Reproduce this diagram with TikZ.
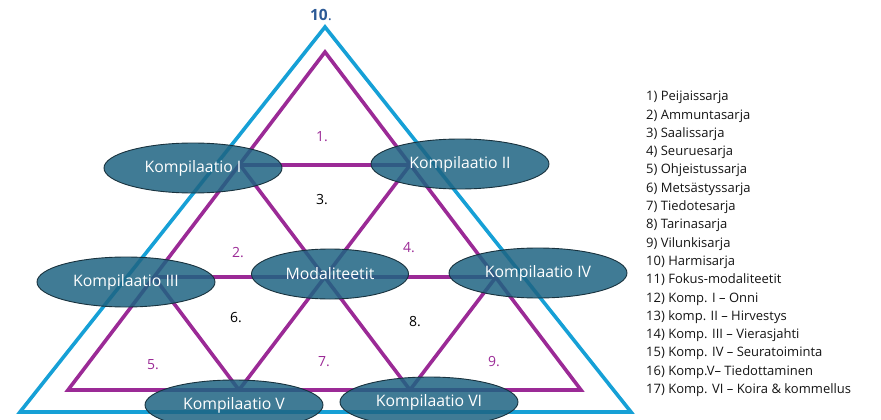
\documentclass[tikz,border=0pt]{standalone}
\usepackage{fontspec}
\setmainfont{Open Sans}
\usetikzlibrary{shapes.geometric}
\definecolor{purp}{RGB}{155,42,150}
\definecolor{skyb}{RGB}{22,160,214}
\definecolor{ellfill}{RGB}{30,100,130}
\definecolor{ellline}{RGB}{25,50,62}
\definecolor{tenblue}{RGB}{44,90,150}
\definecolor{listtext}{RGB}{20,20,20}
\tikzset{
  purpline/.style={draw=purp,line width=3.6pt},
  blueline/.style={draw=skyb,line width=3.6pt},
  komp/.style={ellipse,draw=ellline,line width=0.9pt,fill=ellfill,fill opacity=0.85,draw opacity=1,text opacity=1,
     text=white,minimum width=178pt,minimum height=50pt,inner sep=0pt,font=\fontsize{15.8}{18}\selectfont},
  pnum/.style={text=purp,font=\fontsize{14}{16}\selectfont},
  bnum/.style={text=black,font=\fontsize{14}{16}\selectfont}
}
\begin{document}
\begin{tikzpicture}[x=1pt,y=-1pt]
\useasboundingbox (0,0) rectangle (881,420);
\clip (0,0) rectangle (881,420);
% blue triangle
\coordinate (T) at (325,27);
\coordinate (U) at (20,412);
\coordinate (V) at (631,412);
\draw[blueline] (T) -- (U) -- (V) -- cycle;
% purple grid
\coordinate (A) at (325,52);
\coordinate (B) at (68,390);
\coordinate (C) at (581,390);
\coordinate (P1) at (240,165);
\coordinate (P2) at (410,165);
\coordinate (Q1) at (154,277);
\coordinate (Q2) at (325,277);
\coordinate (Q3) at (496,277);
\coordinate (R2) at (239,390);
\coordinate (R3) at (410,390);
\draw[purpline] (A) -- (B) -- (C) -- cycle;
\draw[purpline] (P1) -- (P2);
\draw[purpline] (Q1) -- (Q3);
\draw[purpline] (P1) -- (R3);
\draw[purpline] (P2) -- (R2);
\draw[purpline] (Q1) -- (R2);
\draw[purpline] (Q3) -- (R3);
% ellipses
\node[komp] (k1) at (193,168) {Kompilaatio I};
\node[komp] (k2) at (460,164) {Kompilaatio II};
\node[komp] (k3) at (126,282) {Kompilaatio III};
\node[komp,minimum width=157pt] (mod) at (330,274) {Modaliteetit};
\node[komp] (k4) at (538,273) {Kompilaatio IV};
\node[komp] (k5) at (234,405) {Kompilaatio V};
\node[komp] (k6) at (429,402) {Kompilaatio VI};
% numbers
\node[pnum] (n1) at (322,137) {1.};
\node[bnum] (n3) at (322,200) {3.};
\node[pnum] (n2) at (238,253) {2.};
\node[pnum] (n4) at (409,248) {4.};
\node[bnum] (n6) at (236,318) {6.};
\node[bnum] (n8) at (415,322) {8.};
\node[pnum] (n5) at (153,365) {5.};
\node[pnum] (n7) at (324,362) {7.};
\node[pnum] (n9) at (494,362) {9.};
\node[text=tenblue,font=\fontsize{15.5}{18}\selectfont] (n10) at (321,15) {\textbf{10}.};
% legend
\node[anchor=north west,align=left,inner sep=0pt,text=listtext,font=\fontsize{13}{18.3}\selectfont] (legend) at (646,91) {%
1) Peijaissarja\\
2) Ammuntasarja\\
3) Saalissarja\\
4) Seuruesarja\\
5) Ohjeistussarja\\
6) Metsästyssarja\\
7) Tiedotesarja\\
8) Tarinasarja\\
9) Vilunkisarja\\
10) Harmisarja\\
11) Fokus-modaliteetit\\
12) Komp. I – Onni\\
13) komp. II – Hirvestys\\
14) Komp. III – Vierasjahti\\
15) Komp. IV – Seuratoiminta\\
16) Komp.V– Tiedottaminen\\
17) Komp. VI – Koira \& kommellus};
\end{tikzpicture}
\end{document}
